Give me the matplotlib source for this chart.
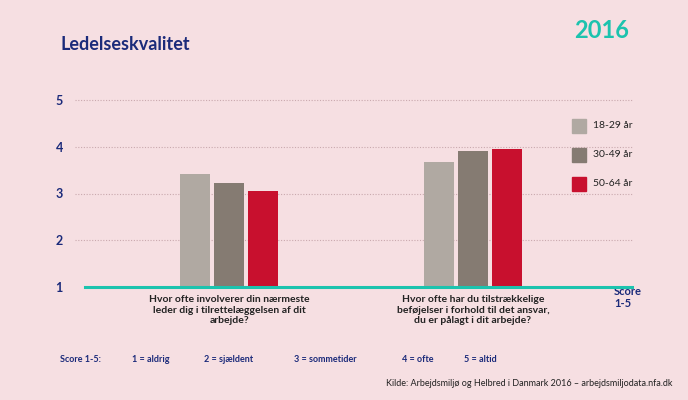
import matplotlib.pyplot as plt

groups = ["Hvor ofte involverer din nærmeste\nleder dig i tilrettelæggelsen af dit\narbejde?",
          "Hvor ofte har du tilstrækkelige\nbeføjelser i forhold til det ansvar,\ndu er pålagt i dit arbejde?"]
ages = ["18-29 år", "30-49 år", "50-64 år"]
values = [[3.42, 3.68], [3.23, 3.90], [3.05, 3.96]]
colors = ["#B0A9A2", "#857B72", "#C8102E"]
scale = ["Score 1-5:", "1 = aldrig", "2 = sjældent", "3 = sommetider", "4 = ofte", "5 = altid"]
scale_x = [60, 132, 204, 294, 402, 464]

bg = "#F6DFE2"
navy = "#1B2A7A"
teal = "#1CC3AE"
plt.rcParams["font.family"] = "Lato"

fig = plt.figure(figsize=(6.88, 4.0), dpi=100, facecolor=bg)
W, H = 688, 400
ax = fig.add_axes([85 / W, 1 - 287 / H, (632 - 85) / W, (287 - 100) / H], facecolor=bg)
ax.set_xlim(0, 547)
ax.set_ylim(1, 5)

centers = [229 - 85, 473 - 85]
for i, (lab, col) in enumerate(zip(ages, colors)):
    xs = [c + (i - 1) * 34 for c in centers]
    ax.bar(xs, [v - 1 for v in values[i]], bottom=1, width=30, color=col, zorder=3)

for y in [2, 3, 4, 5]:
    ax.plot([-10, 547], [y, y], color="#C9A9AE", lw=0.8, ls=(0, (1, 1.5)), clip_on=False, zorder=1)
ax.plot([0, 547], [1, 1], color=teal, lw=2.2, clip_on=False, zorder=4)
for s in ax.spines.values():
    s.set_visible(False)
ax.set_xticks([])
ax.set_yticks([1, 2, 3, 4, 5])
ax.tick_params(axis="y", length=0, pad=16, labelcolor=navy, labelsize=9)
for t in ax.get_yticklabels():
    t.set_fontweight("bold")

for c, g in zip(centers, groups):
    ax.text(c, 0.83, g, ha="center", va="top", fontsize=7.5, fontweight="bold",
            color="#222222", linespacing=1.25)
ax.text(529, 1.02, "Score\n1-5", ha="left", va="top", fontsize=8, fontweight="bold",
        color=navy, linespacing=1.1, transform=ax.transData)

for i, (lab, col) in enumerate(zip(ages, colors)):
    y = 126 + i * 29
    fig.patches.append(plt.Rectangle((572 / W, 1 - (y + 7) / H), 14 / W, 14 / H,
                                     color=col, transform=fig.transFigure))
    fig.text(593 / W, 1 - y / H, lab, va="center", fontsize=7.5, color="#222222")

fig.text(60 / W, 1 - 45 / H, "Ledelseskvalitet", fontsize=13, fontweight="bold",
         color=navy, va="center")
fig.text(629 / W, 1 - 31 / H, "2016", fontsize=17, fontweight="bold", color=teal,
         ha="right", va="center")
for x, s in zip(scale_x, scale):
    fig.text(x / W, 1 - 360 / H, s, fontsize=6.5, fontweight="bold", color=navy, va="center")
fig.text(673 / W, 1 - 383 / H,
         "Kilde: Arbejdsmiljø og Helbred i Danmark 2016 – arbejdsmiljodata.nfa.dk",
         fontsize=6.5, color="#222222", ha="right", va="center")

fig.savefig("out.png", dpi=100, facecolor=bg)
